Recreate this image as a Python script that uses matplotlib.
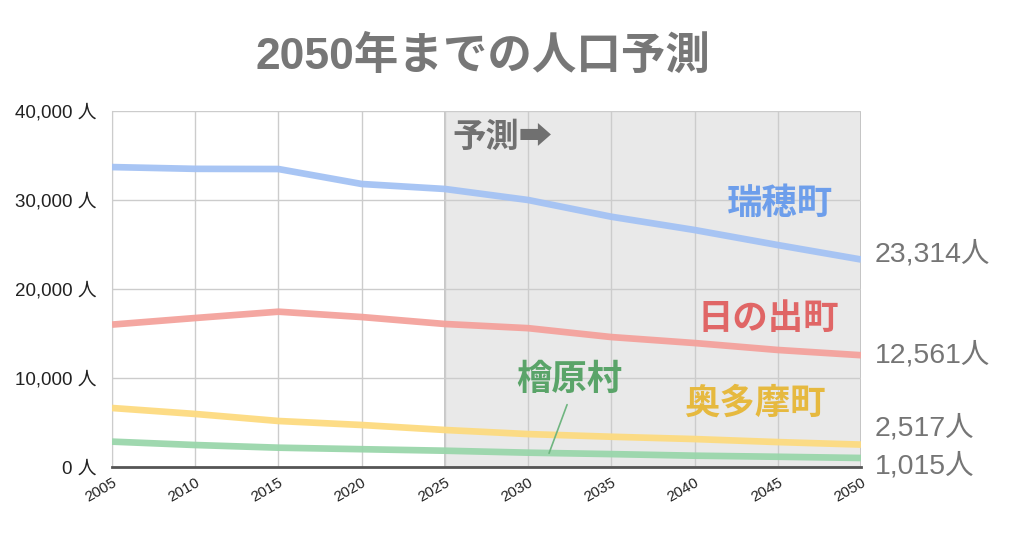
import matplotlib
matplotlib.use('Agg')
import matplotlib.pyplot as plt
from matplotlib.ticker import FuncFormatter

plt.rcParams['font.family'] = ['Liberation Sans', 'Noto Sans CJK JP', 'DejaVu Sans']

years = [2005, 2010, 2015, 2020, 2025, 2030, 2035, 2040, 2045, 2050]
mizuho = [33700, 33500, 33480, 31800, 31240, 30000, 28120, 26630, 24940, 23314]
hinode = [16000, 16740, 17450, 16850, 16070, 15600, 14600, 13930, 13150, 12561]
okutama = [6630, 5960, 5170, 4720, 4160, 3700, 3400, 3140, 2800, 2517]
hinohara = [2850, 2470, 2170, 2000, 1830, 1610, 1450, 1270, 1150, 1015]

names = ["瑞穂町", "日の出町", "奥多摩町", "檜原村"]
line_colors = ["#a4c2f4", "#f4a29c", "#fddb80", "#9ad6ab"]
text_colors = ["#6d9eeb", "#e06666", "#e6b93f", "#5aa469"]
forecast_start = 2025

fig = plt.figure(figsize=(10.24, 5.35), dpi=100)
ax = fig.add_axes([112 / 1024, 1 - 467 / 535, (861 - 112) / 1024, (467 - 111) / 535])

# forecast shading
ax.axvspan(forecast_start, years[-1], facecolor='#e9e9e9', edgecolor='#bdbdbd',
           linewidth=1.2, zorder=0)

for series, c in zip([mizuho, hinode, okutama, hinohara], line_colors):
    ax.plot(years, series, color=c, linewidth=4.8, alpha=0.95, solid_capstyle='butt', zorder=3)

ax.set_xlim(years[0], years[-1])
ax.set_ylim(0, 40000)
ax.set_xticks(years)
ax.set_yticks([0, 10000, 20000, 30000, 40000])
ax.yaxis.set_major_formatter(FuncFormatter(lambda v, p: f"{int(v):,} 人"))
ax.grid(True, color='#cccccc', linewidth=1, zorder=1)
ax.set_axisbelow(True)
ax.tick_params(length=0)
ax.tick_params(axis='y', pad=11)
for lab in ax.get_yticklabels():
    lab.set_fontsize(13.5)
    lab.set_color('#222222')
for lab in ax.get_xticklabels():
    lab.set_fontsize(11)
    lab.set_rotation(30)
    lab.set_ha('right')
    lab.set_rotation_mode('anchor')
    lab.set_color('#222222')
ax.tick_params(axis='x', pad=6)
for s in ['top', 'right']:
    ax.spines[s].set_visible(False)
ax.spines['left'].set_color('#cccccc')
ax.spines['bottom'].set_color('#555555')
ax.spines['bottom'].set_linewidth(2)

# title
fig.text(483 / 1024, 1 - 57 / 535, "2050年までの人口予測", ha='center', va='center',
         fontsize=32, fontweight='bold', color='#777777')

# forecast marker
ax.text(2025.45, 37000, "予測➡", ha='left', va='center', fontsize=24,
        fontweight='bold', color='#707070', family=['Noto Sans CJK JP', 'DejaVu Sans'])

# series labels inside plot
ax.text(2045.1, 29500, names[0], ha='center', va='center', fontsize=25.5,
        fontweight='bold', color=text_colors[0])
ax.text(2044.4, 16600, names[1], ha='center', va='center', fontsize=25.5,
        fontweight='bold', color=text_colors[1])
ax.text(2043.6, 7100, names[2], ha='center', va='center', fontsize=25.5,
        fontweight='bold', color=text_colors[2])
ax.text(2032.5, 9700, names[3], ha='center', va='center', fontsize=25.5,
        fontweight='bold', color=text_colors[3])
ax.annotate("", xy=(2031.2, 1250), xytext=(2032.4, 7300),
            arrowprops=dict(arrowstyle='-', color='#6fb580', linewidth=1.2))

# end values on the right
for series, dy in zip([mizuho, hinode, okutama, hinohara], [4, 0, 12, -6]):
    ax.annotate(f"{series[-1]:,}人", xy=(years[-1], series[-1]), xytext=(10, dy),
                textcoords='offset points', ha='left', va='center', fontsize=20.5,
                color='#757575', annotation_clip=False)

fig.savefig("out.png", dpi=100)
